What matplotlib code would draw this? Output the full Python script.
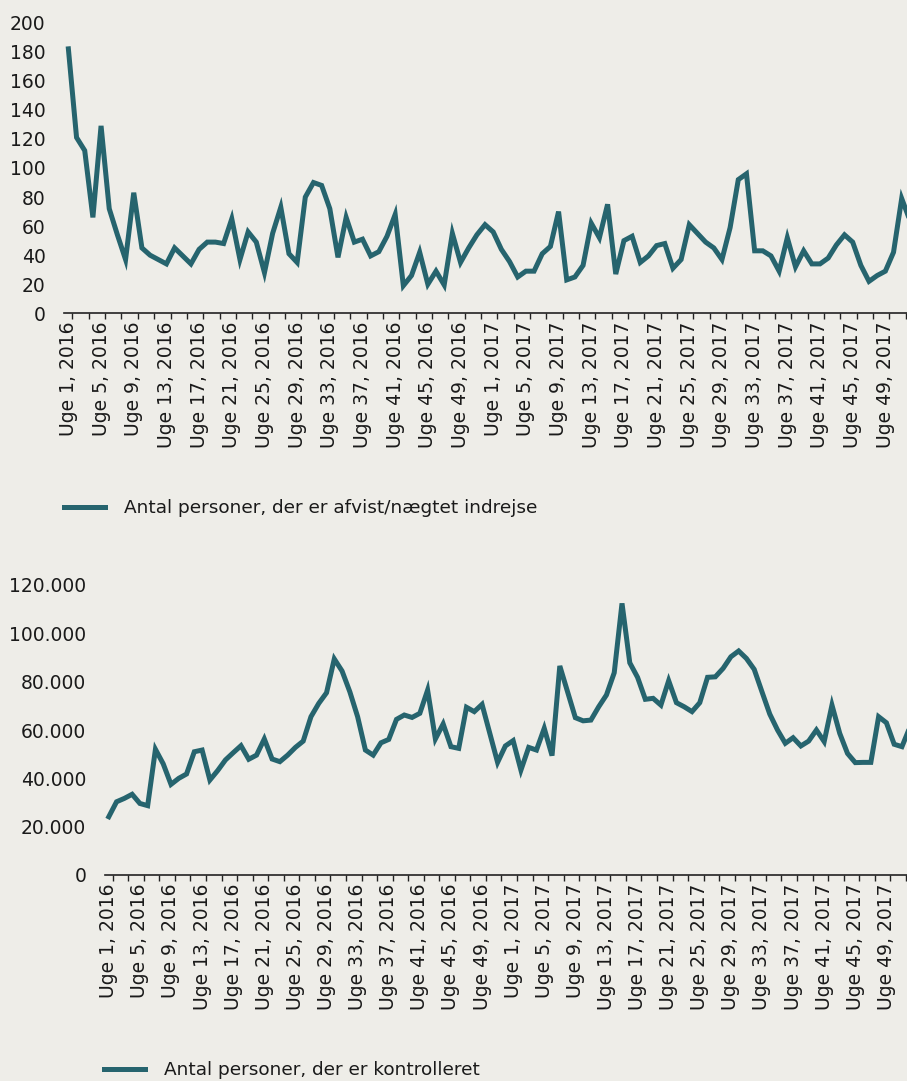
import matplotlib
matplotlib.use("Agg")
import matplotlib.pyplot as plt
from matplotlib.ticker import FuncFormatter

# -----------------------------
# DATA
# -----------------------------
years = [2016, 2017]
weeks = list(range(1, 53))
categories = [f"Uge {w}, {y}" for y in years for w in weeks]

afvist = [182, 121, 112, 66, 129, 72, 54, 37, 83, 45,
          40, 37, 34, 45, 39.5, 34, 44, 49, 49, 48,
          65, 37, 56, 49, 28, 55, 73, 41, 35, 80,
          90, 88, 72, 38.5, 66, 49, 51, 39.5, 42.4, 53,
          68, 19, 26, 42, 20, 29, 19.5, 55, 35, 45,
          54, 61, 56, 44, 35.6, 25, 29, 29, 41, 46,
          70, 23, 25, 33, 62, 52, 75, 27, 50, 53,
          35, 39.5, 46.6, 48, 31, 37, 61, 55, 49, 45,
          37, 59, 92, 96, 43, 43, 39.5, 29, 52, 32,
          43, 34, 34, 38, 47, 54, 49, 33, 22, 26,
          29, 42, 79, 64]

kontrolleret_k = [24.1, 30.3, 31.7, 33.4, 29.6, 28.7, 52, 46, 37.5, 40,
                  41.8, 51, 51.7, 39.3, 43.2, 47.6, 50.6, 53.5, 47.9, 49.6,
                  56.3, 48, 46.9, 49.6, 52.8, 55.4, 65.5, 71, 75.4, 89.4,
                  84.4, 75.8, 65.5, 51.7, 49.6, 54.7, 56.1, 64.4, 66.2, 65.2,
                  66.9, 76.5, 56.3, 62.5, 53.1, 52.4, 69.4, 67.6, 70.6, 58.6,
                  46.6, 53.4, 55.6, 43.4, 52.8, 51.7, 60.7, 49.4, 86.5, 75.8,
                  65.1, 63.8, 64.1, 69.6, 74.5, 83.7, 112.4, 87.8, 81.8, 72.7,
                  73.1, 70.3, 80.4, 71.3, 69.6, 67.6, 71.3, 81.8, 82, 85.5,
                  90.3, 92.7, 89.6, 85.1, 75.8, 66.6, 60, 54.5, 56.8, 53.4,
                  55.4, 60, 55.2, 70.3, 58.6, 50.3, 46.5, 46.6, 46.6, 65.5,
                  63, 54.1, 53.1, 61]
kontrolleret = [v * 1000 for v in kontrolleret_k]

label_top = "Antal personer, der er afvist/nægtet indrejse"
label_bottom = "Antal personer, der er kontrolleret"

# -----------------------------
# STYLE
# -----------------------------
bg = "#eeede8"
line_col = "#26646e"
txt_col = "#1a1a1a"
tick_fs = 13.5
legend_fs = 13.3

fig = plt.figure(figsize=(9.07, 10.81), dpi=100, facecolor=bg)


def style_axis(ax, ymax, ystep, fmt):
    x = list(range(len(categories)))
    ax.set_facecolor(bg)
    for s in ["top", "right", "left"]:
        ax.spines[s].set_visible(False)
    ax.spines["bottom"].set_color("#222222")
    ax.spines["bottom"].set_linewidth(1.2)
    ax.set_xlim(-0.5, 102.65)
    ax.set_ylim(0, ymax)
    ax.set_yticks(range(0, ymax + 1, ystep))
    ax.yaxis.set_major_formatter(FuncFormatter(fmt))
    ax.tick_params(axis="y", length=0, pad=13.5, labelsize=tick_fs, labelcolor=txt_col)
    ax.set_xticks(x[::4])
    ax.set_xticklabels(categories[::4], rotation=90)
    ax.set_xticks([i + 0.5 for i in x[::2]], minor=True)
    ax.tick_params(axis="x", which="major", length=0, pad=6, labelsize=tick_fs, labelcolor=txt_col)
    ax.tick_params(axis="x", which="minor", length=4, width=1, color="#222222")


def add_legend(line, text, x_px, y_px):
    fig.legend([line], [text], loc="center left",
               bbox_to_anchor=(x_px / 907, 1 - y_px / 1081),
               frameon=False, borderpad=0, borderaxespad=0,
               handlelength=2.2, handletextpad=1.03,
               prop={"size": legend_fs}, labelcolor=txt_col)


# -----------------------------
# TOP: afvist / naegtet indrejse
# -----------------------------
ax1 = fig.add_axes([64.3 / 907, 1 - 313.3 / 1081, 1 - 64.3 / 907, (313.3 - 22.7) / 1081])
l1, = ax1.plot(range(len(afvist)), afvist, color=line_col, lw=3.6, solid_joinstyle="miter")
style_axis(ax1, 200, 20, lambda v, p: f"{int(v)}")
add_legend(l1, label_top, 64, 508)

# -----------------------------
# BOTTOM: kontrolleret
# -----------------------------
ax2 = fig.add_axes([104.9 / 907, 1 - 875 / 1081, 1 - 104.9 / 907, (875 - 585) / 1081])
l2, = ax2.plot(range(len(kontrolleret)), kontrolleret, color=line_col, lw=3.6, solid_joinstyle="miter")
style_axis(ax2, 120000, 20000, lambda v, p: f"{int(v):,}".replace(",", "."))
add_legend(l2, label_bottom, 104, 1070)

fig.savefig("out.png", dpi=100, facecolor=bg)
